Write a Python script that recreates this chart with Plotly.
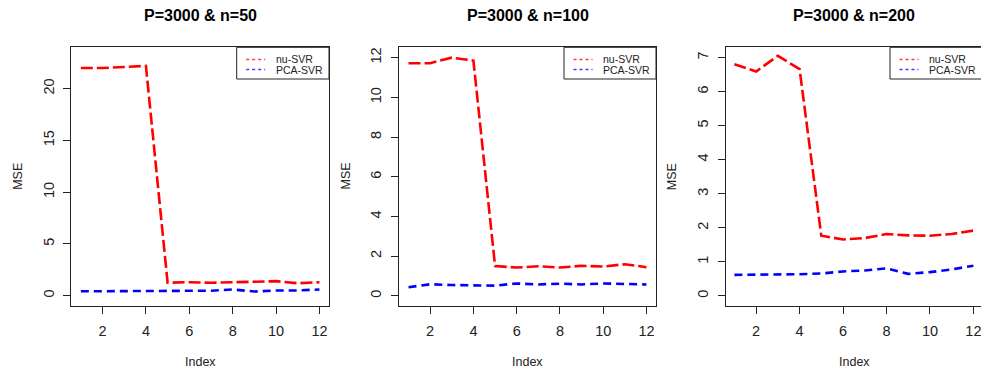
import plotly.graph_objects as go

index = list(range(1, 13))
titles = ["P=3000 & n=50", "P=3000 & n=100", "P=3000 & n=200"]
series_names = ["nu-SVR", "PCA-SVR"]

nu_svr_n50 = [22.0, 22.0, 22.1, 22.2, 1.25, 1.3, 1.25, 1.3, 1.3, 1.4, 1.2, 1.3]
pca_svr_n50 = [0.42, 0.42, 0.42, 0.48, 0.42, 0.45, 0.48, 0.6, 0.4, 0.5, 0.5, 0.6]

nu_svr_n100 = [11.72, 11.72, 12.0, 11.85, 1.51, 1.43, 1.5, 1.43, 1.52, 1.48, 1.6, 1.45]
pca_svr_n100 = [0.44, 0.59, 0.55, 0.55, 0.52, 0.63, 0.58, 0.62, 0.58, 0.63, 0.6, 0.58]

nu_svr_n200 = [6.8, 6.59, 7.05, 6.66, 1.77, 1.66, 1.7, 1.82, 1.78, 1.77, 1.82, 1.92]
pca_svr_n200 = [0.62, 0.62, 0.63, 0.64, 0.66, 0.72, 0.75, 0.81, 0.65, 0.7, 0.78, 0.89]

x_ticks = [2, 4, 6, 8, 10, 12]
y_ticks = [[0, 5, 10, 15, 20], [0, 2, 4, 6, 8, 10, 12], [0, 1, 2, 3, 4, 5, 6, 7]]

W, H = 981, 376
FONT = "Liberation Sans, Arial, sans-serif"

# pixel layout of the three panels
panels_px = [(71.3, 329.0), (399.0, 656.0), (725.7, 981.0)]
top_px, bot_px = 47.3, 305.7
x_ranges = [[0.56, 12.44], [0.56, 12.44], [0.60, 12.35]]
y_ranges = [[-0.97, 24.0], [-0.49, 12.52], [-0.285, 7.30]]
legend_boxes = [(236.7, 329.0), (564.0, 656.0), (890.0, 983.0)]

data = [(nu_svr_n50, pca_svr_n50), (nu_svr_n100, pca_svr_n100), (nu_svr_n200, pca_svr_n200)]

def px(p):
    return p / W

def py(p):
    return 1 - p / H

fig = go.Figure()
shapes = []
annotations = []

for i, (red, blue) in enumerate(data):
    n = "" if i == 0 else str(i + 1)
    xa, ya = "x" + n, "y" + n
    fig.add_trace(go.Scatter(x=index, y=red, mode="lines", xaxis=xa, yaxis=ya,
                             line=dict(color="#ff0000", width=2.6, dash="12px,4px"),
                             showlegend=False, name=series_names[0]))
    fig.add_trace(go.Scatter(x=index, y=blue, mode="lines", xaxis=xa, yaxis=ya,
                             line=dict(color="#0000ff", width=2.6, dash="8px,5px"),
                             showlegend=False, name=series_names[1]))
    l, r = panels_px[i]
    common = dict(showgrid=False, zeroline=False, showline=True, linecolor="#222",
                  linewidth=1, ticks="outside", ticklen=7, tickwidth=1, tickcolor="#222",
                  ticklabeloverflow="allow",
                  tickfont=dict(family=FONT, size=14.5, color="#222"))
    fig.update_layout(**{
        "xaxis" + n: dict(domain=[px(l), min(px(r), 1.0)], range=x_ranges[i],
                          tickvals=x_ticks, anchor=ya, mirror=True,
                          ticklabelstandoff=5, **common),
        "yaxis" + n: dict(domain=[py(bot_px), py(top_px)], range=y_ranges[i],
                          tickvals=y_ticks[i], anchor=xa, mirror=(i < 2),
                          tickangle=-90, ticklabelstandoff=4, **common),
    })
    cx = (l + (r if i < 2 else 983.0)) / 2
    annotations.append(dict(text="<b>" + titles[i] + "</b>", x=px(cx), y=py(16),
                            xref="paper", yref="paper", showarrow=False,
                            xanchor="center", yanchor="middle",
                            font=dict(family=FONT, size=16, color="#000")))
    annotations.append(dict(text="Index", x=px(cx), y=py(362), xref="paper", yref="paper",
                            showarrow=False, xanchor="center", yanchor="middle",
                            font=dict(family=FONT, size=12.5, color="#222")))
    annotations.append(dict(text="MSE", x=px(l - 54), y=py((top_px + bot_px) / 2),
                            xref="paper", yref="paper", showarrow=False, textangle=-90,
                            xanchor="center", yanchor="middle",
                            font=dict(family=FONT, size=12.5, color="#222")))
    # legend
    bl, br = legend_boxes[i]
    shapes.append(dict(type="rect", xref="paper", yref="paper", x0=px(bl), x1=px(br),
                       y0=py(79), y1=py(top_px), line=dict(color="#222", width=1),
                       fillcolor="white", layer="above"))
    for k, (col, yy) in enumerate([("#ff3c3c", 59.5), ("#3c3cff", 69.5)]):
        shapes.append(dict(type="line", xref="paper", yref="paper", x0=px(bl + 9.5),
                           x1=px(bl + 28.5), y0=py(yy), y1=py(yy), layer="above",
                           line=dict(color=col, width=1.5, dash="3px,3px")))
        annotations.append(dict(text=series_names[k], x=px(bl + 37), y=py(yy),
                                xref="paper", yref="paper", showarrow=False,
                                xanchor="left", yanchor="middle",
                                font=dict(family=FONT, size=10.5, color="#222")))

fig.update_layout(width=W, height=H, margin=dict(l=0, r=0, t=0, b=0),
                  paper_bgcolor="white", plot_bgcolor="white",
                  shapes=shapes, annotations=annotations, showlegend=False)

fig.write_html("out.html", config={"displayModeBar": False},
               post_script="document.body.style.margin='0';document.body.style.overflow='hidden';")
